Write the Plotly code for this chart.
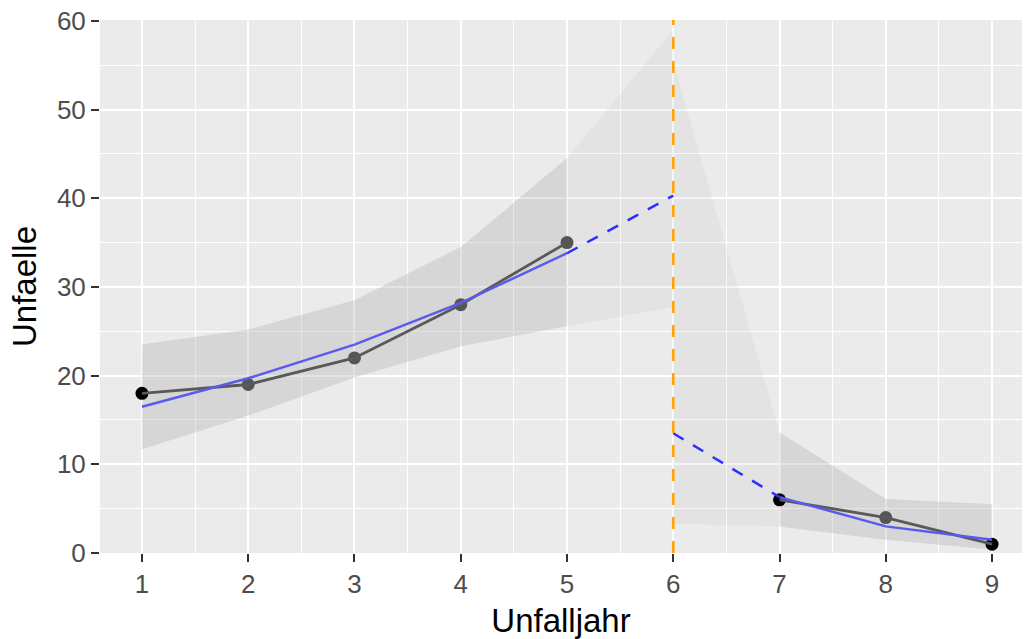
import plotly.graph_objects as go

# ---- data ----
jahr_obs1 = [1, 2, 3, 4, 5]
unfaelle_obs1 = [18, 19, 22, 28, 35]
jahr_obs2 = [7, 8, 9]
unfaelle_obs2 = [6, 4, 1]

point_colors1 = ["#000000", "#555555", "#555555", "#555555", "#555555"]
point_colors2 = ["#000000", "#555555", "#000000"]

fit1_x = [1, 2, 3, 4, 5]
fit1_y = [16.5, 19.7, 23.5, 28.2, 33.8]
pred1_x = [5, 6]
pred1_y = [33.8, 40.3]

fit2_x = [7, 8, 9]
fit2_y = [6.3, 3.0, 1.5]
pred2_x = [6, 7]
pred2_y = [13.5, 6.3]

band1_x = [1, 2, 3, 4, 5, 6]
band1_upper = [23.5, 25.2, 28.5, 34.5, 44.5, 59.0]
band1_lower = [11.7, 15.5, 19.8, 23.3, 25.6, 27.7]

band2_x = [6, 7, 8, 9]
band2_upper = [55.3, 13.6, 6.1, 5.5]
band2_lower = [3.3, 3.0, 1.5, 0.4]

cut_year = 6
x_ticks = [1, 2, 3, 4, 5, 6, 7, 8, 9]
y_ticks = [0, 10, 20, 30, 40, 50, 60]

fig = go.Figure()

def ribbon(xs, up, lo, color):
    fig.add_trace(go.Scatter(
        x=list(xs) + list(xs)[::-1],
        y=list(up) + list(lo)[::-1],
        fill="toself", fillcolor=color, mode="lines",
        line=dict(width=0), hoverinfo="skip", showlegend=False))

light = "rgba(153,153,153,0.10)"
dark = "rgba(153,153,153,0.18)"
# full prediction bands (light)
ribbon(band1_x, band1_upper, band1_lower, light)
ribbon(band2_x, band2_upper, band2_lower, light)
# observed range (darker)
n1 = len(fit1_x)
ribbon(band1_x[:n1], band1_upper[:n1], band1_lower[:n1], dark)
ribbon(band2_x[1:], band2_upper[1:], band2_lower[1:], dark)

# points
fig.add_trace(go.Scatter(x=jahr_obs1, y=unfaelle_obs1, mode="markers",
                         marker=dict(size=13, color=point_colors1), showlegend=False))
fig.add_trace(go.Scatter(x=jahr_obs2, y=unfaelle_obs2, mode="markers",
                         marker=dict(size=13, color=point_colors2), showlegend=False))
# grey connecting lines
for xs, ys in [(jahr_obs1, unfaelle_obs1), (jahr_obs2, unfaelle_obs2)]:
    fig.add_trace(go.Scatter(x=xs, y=ys, mode="lines",
                             line=dict(color="#595959", width=2.8), showlegend=False))

# fitted lines
for xs, ys in [(fit1_x, fit1_y), (fit2_x, fit2_y)]:
    fig.add_trace(go.Scatter(x=xs, y=ys, mode="lines",
                             line=dict(color="#5a5aee", width=2.5), showlegend=False))
for xs, ys in [(pred1_x, pred1_y), (pred2_x, pred2_y)]:
    fig.add_trace(go.Scatter(x=xs, y=ys, mode="lines",
                             line=dict(color="#2f2fff", width=2.5, dash="12px,11px"),
                             showlegend=False))

fig.add_shape(type="line", x0=cut_year, x1=cut_year, y0=0, y1=1,
              xref="x", yref="paper",
              line=dict(color="#FFA500", width=2.6, dash="12px,12px"))

axis_common = dict(
    showgrid=True, gridcolor="white", gridwidth=2.2,
    zeroline=False, showline=False,
    ticks="outside", ticklen=8, tickwidth=2.4, tickcolor="#333333",
    tickfont=dict(family="Liberation Sans, Arial", size=26, color="#4d4d4d"),
)

fig.update_layout(
    width=1027, height=639,
    margin=dict(l=100, r=5, t=20, b=86),
    paper_bgcolor="white", plot_bgcolor="#ebebeb",
    xaxis=dict(
        range=[0.605, 9.282], tickvals=x_ticks, ticktext=[str(v) for v in x_ticks],
        minor=dict(dtick=0.5, tick0=0.5, showgrid=True, gridcolor="white", gridwidth=1.1, ticks=""),
        title=dict(text="Unfalljahr", font=dict(family="Liberation Sans, Arial", size=33, color="black"),
                   standoff=10),
        **axis_common),
    yaxis=dict(
        range=[0, 60.1], tickvals=y_ticks, ticktext=[str(v) for v in y_ticks],
        minor=dict(dtick=5, tick0=5, showgrid=True, gridcolor="white", gridwidth=1.1, ticks=""),
        title=dict(text="Unfaelle", font=dict(family="Liberation Sans, Arial", size=33, color="black"),
                   standoff=10),
        **axis_common),
)

fig.write_html("out.html")
